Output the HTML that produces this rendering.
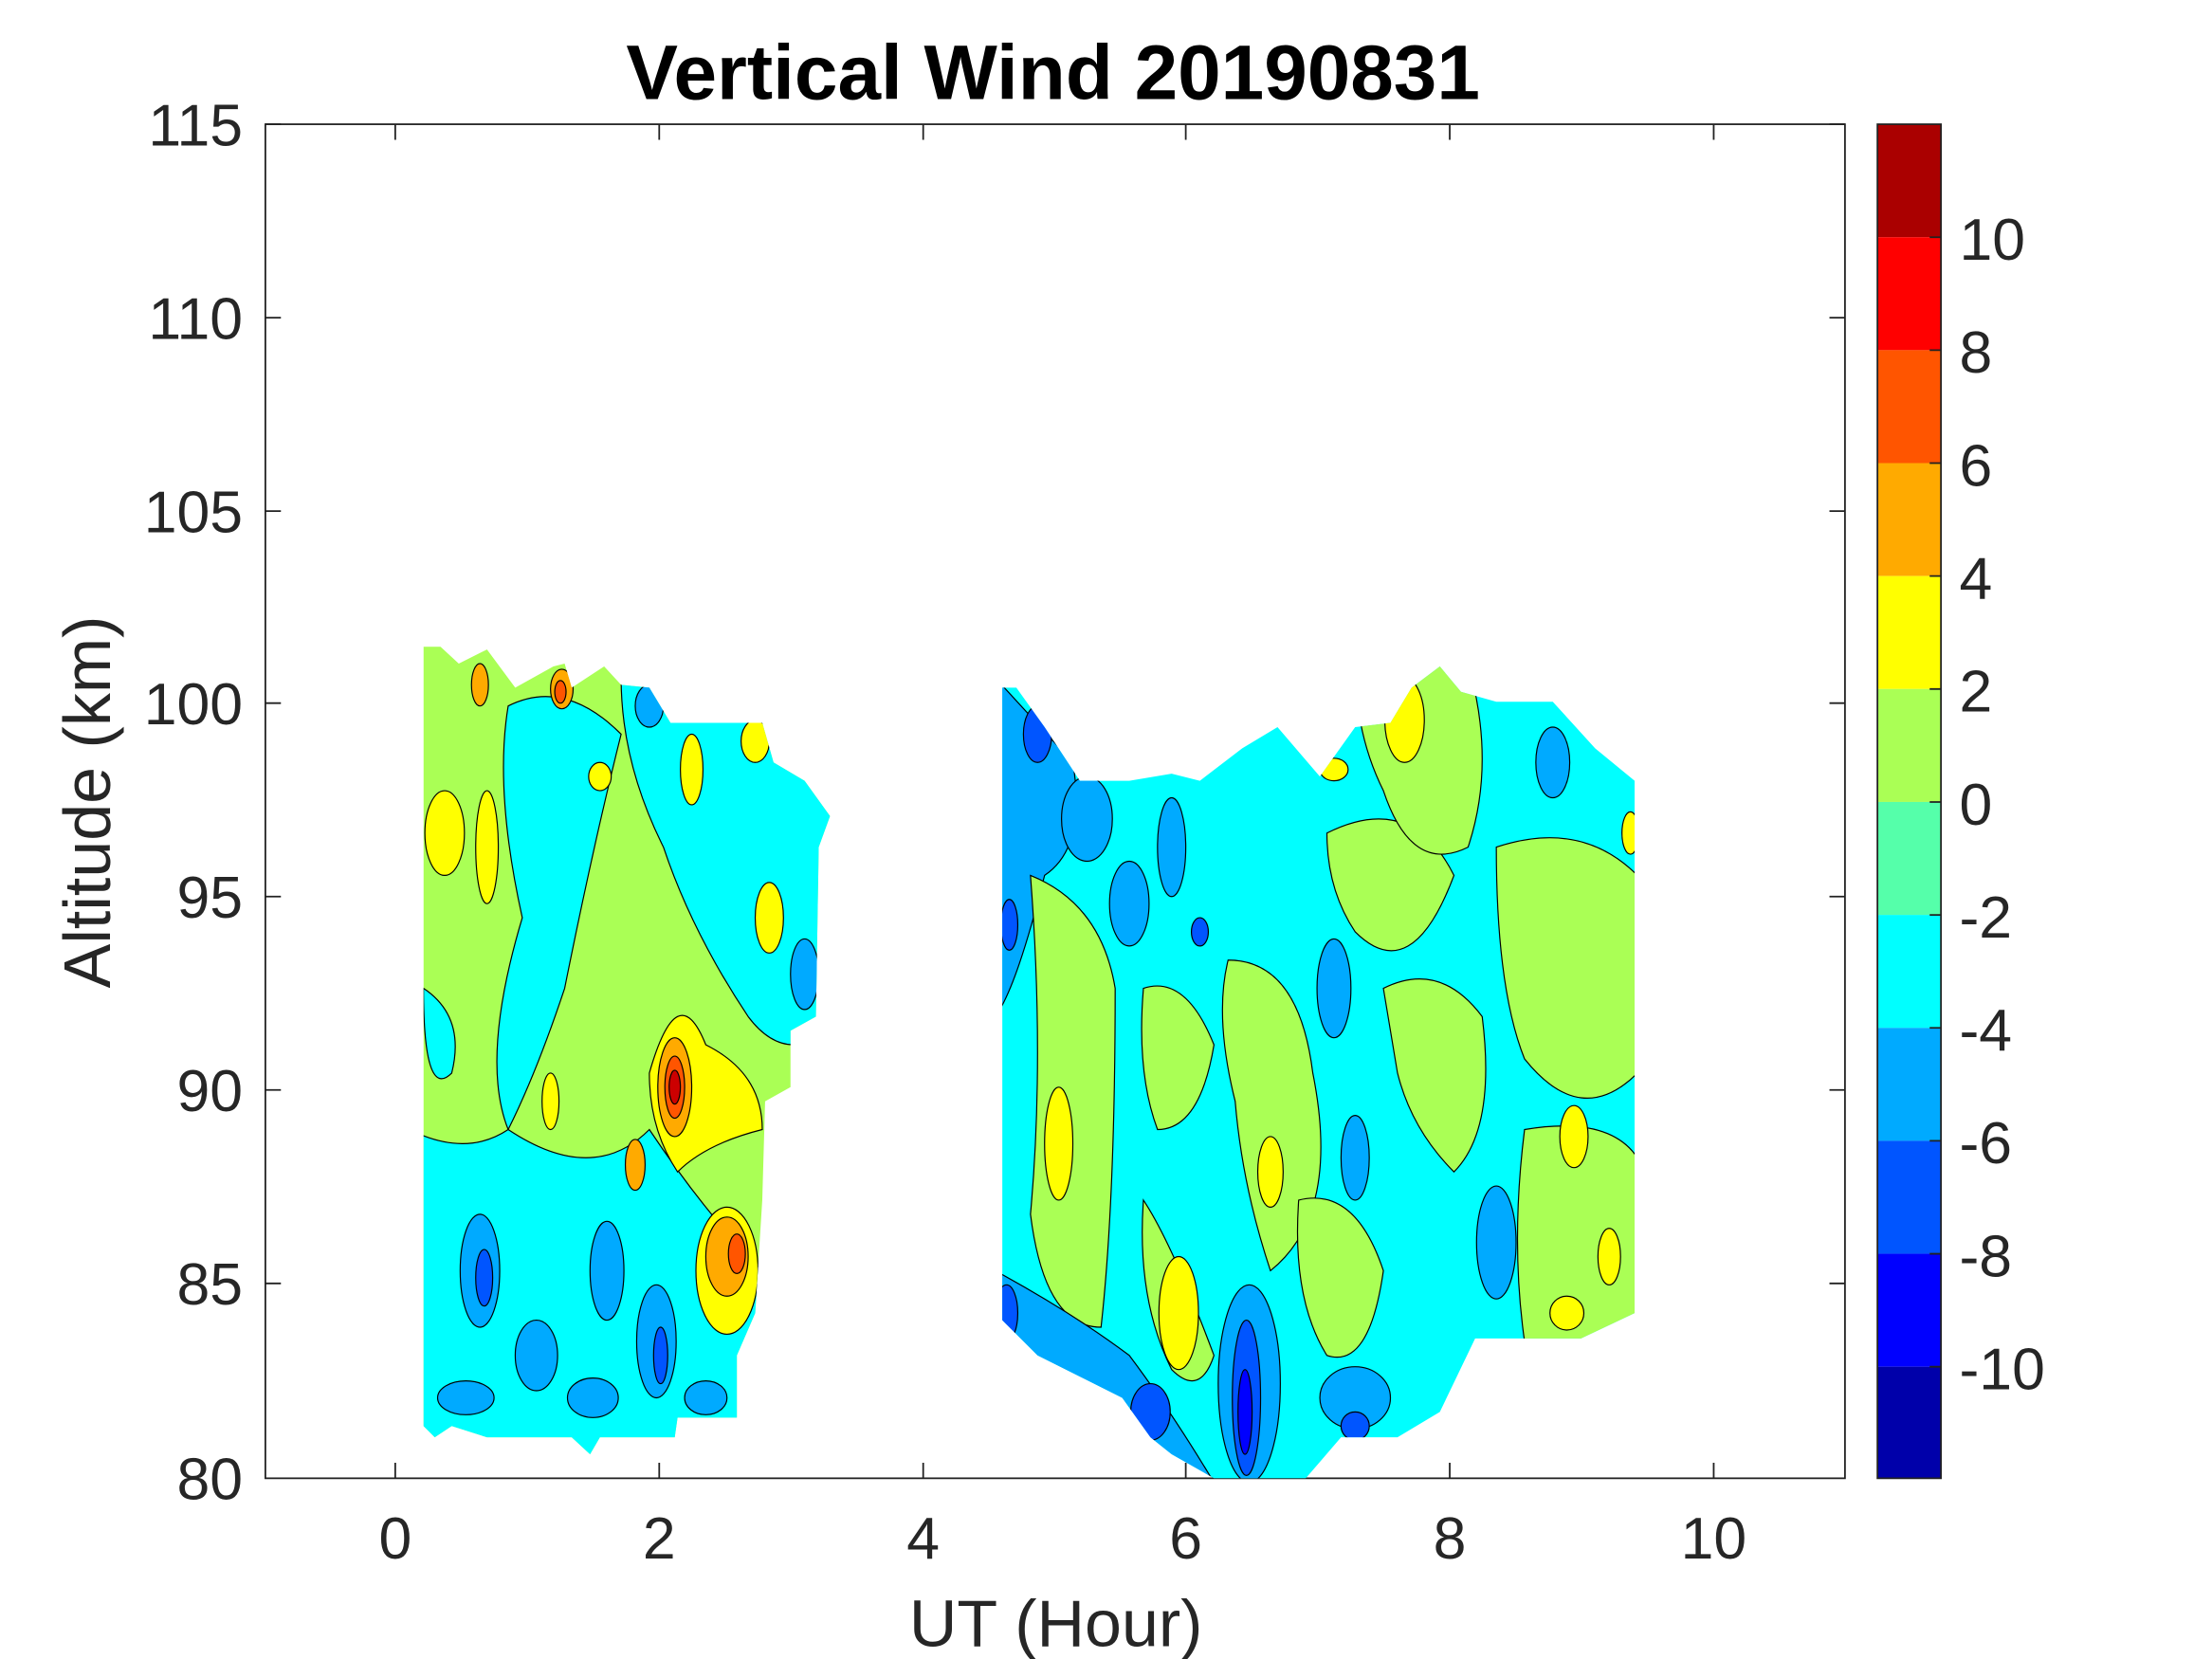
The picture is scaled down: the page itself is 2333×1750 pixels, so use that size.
<!DOCTYPE html>
<html><head><meta charset="utf-8"><style>html,body{margin:0;padding:0;background:#fff}svg{display:block}</style></head>
<body>
<svg width="2333" height="1750" viewBox="0 0 1567 1175" preserveAspectRatio="none" xmlns="http://www.w3.org/2000/svg" font-family="Liberation Sans, sans-serif">
<defs>
<clipPath id="cl"><polygon points="300,458 312,458 325,470 345,460 365,487 392,472 400,470 405,487 428,472 440,485 460,487 475,512 540,512 548,540 570,553 588,578 580,600 578,720 560,730 560,770 542,780 540,850 535,930 522,960 522,1004 480,1004 478,1018 425,1018 418,1030 405,1018 345,1018 320,1010 308,1018 300,1010"/></clipPath>
<clipPath id="cr"><polygon points="710,487 720,487 740,515 765,553 800,553 830,548 850,553 880,530 905,515 935,550 960,515 985,512 1000,487 1020,472 1035,490 1060,497 1100,497 1130,530 1158,553 1158,930 1120,948 1045,948 1020,1000 990,1018 950,1018 925,1047 860,1047 830,1030 815,1018 795,990 765,975 735,960 710,935"/></clipPath>
</defs>
<rect x="188" y="88" width="1119" height="959" fill="#fff" stroke="#222" stroke-width="1.2"/>
<g clip-path="url(#cl)" stroke="#000" stroke-width="0.8">
<rect x="290" y="450" width="310" height="590" fill="#aaff55"/>
<path d="M360 500 Q400 480 440 520 Q420 600 400 700 Q380 760 360 800 Q340 750 370 650 Q350 560 360 500Z" fill="#00ffff"/>
<path d="M440 480 L600 500 L600 720 Q560 760 530 720 Q490 660 470 600 Q440 540 440 480Z" fill="#00ffff"/>
<path d="M290 800 Q330 820 360 800 Q420 840 460 800 Q500 860 540 900 L540 1040 L290 1040Z" fill="#00ffff"/>
<path d="M300 700 Q330 720 320 760 Q300 780 300 700Z" fill="#00ffff"/>
<ellipse cx="340" cy="900" rx="14" ry="40" fill="#00aaff"/>
<ellipse cx="343" cy="905" rx="6" ry="20" fill="#0055ff"/>
<ellipse cx="380" cy="960" rx="15" ry="25" fill="#00aaff"/>
<ellipse cx="430" cy="900" rx="12" ry="35" fill="#00aaff"/>
<ellipse cx="465" cy="950" rx="14" ry="40" fill="#00aaff"/>
<ellipse cx="468" cy="960" rx="5" ry="20" fill="#0055ff"/>
<ellipse cx="330" cy="990" rx="20" ry="12" fill="#00aaff"/>
<ellipse cx="420" cy="990" rx="18" ry="14" fill="#00aaff"/>
<ellipse cx="500" cy="990" rx="15" ry="12" fill="#00aaff"/>
<ellipse cx="570" cy="690" rx="10" ry="25" fill="#00aaff"/>
<ellipse cx="460" cy="500" rx="10" ry="15" fill="#00aaff"/>
<ellipse cx="315" cy="590" rx="14" ry="30" fill="#ffff00"/>
<ellipse cx="345" cy="600" rx="8" ry="40" fill="#ffff00"/>
<ellipse cx="340" cy="485" rx="6" ry="15" fill="#ffaa00"/>
<ellipse cx="398" cy="488" rx="8" ry="14" fill="#ffaa00"/>
<ellipse cx="397" cy="490" rx="4" ry="8" fill="#ff5500"/>
<ellipse cx="490" cy="545" rx="8" ry="25" fill="#ffff00"/>
<ellipse cx="535" cy="525" rx="10" ry="15" fill="#ffff00"/>
<ellipse cx="545" cy="650" rx="10" ry="25" fill="#ffff00"/>
<path d="M460 760 Q480 690 500 740 Q540 760 540 800 Q500 810 480 830 Q460 800 460 760Z" fill="#ffff00"/>
<ellipse cx="478" cy="770" rx="12" ry="35" fill="#ffaa00"/>
<ellipse cx="478" cy="770" rx="7" ry="22" fill="#ff5500"/>
<ellipse cx="478" cy="770" rx="4" ry="12" fill="#cc0000"/>
<ellipse cx="515" cy="900" rx="22" ry="45" fill="#ffff00"/>
<ellipse cx="515" cy="890" rx="15" ry="28" fill="#ffaa00"/>
<ellipse cx="522" cy="888" rx="6" ry="14" fill="#ff5500"/>
<ellipse cx="450" cy="825" rx="7" ry="18" fill="#ffaa00"/>
<ellipse cx="390" cy="780" rx="6" ry="20" fill="#ffff00"/>
<ellipse cx="425" cy="550" rx="8" ry="10" fill="#ffff00"/>
</g>
<g clip-path="url(#cr)" stroke="#000" stroke-width="0.8">
<rect x="700" y="470" width="470" height="590" fill="#00ffff"/>
<path d="M705 480 L760 540 Q770 600 740 620 Q720 700 705 720Z" fill="#00aaff"/>
<ellipse cx="735" cy="520" rx="10" ry="20" fill="#0055ff"/>
<path d="M730 620 Q780 640 790 700 Q790 850 780 940 Q740 940 730 860 Q740 750 730 620Z" fill="#aaff55"/>
<path d="M810 700 Q840 690 860 740 Q850 800 820 800 Q805 760 810 700Z" fill="#aaff55"/>
<path d="M870 680 Q920 680 930 760 Q950 860 900 900 Q880 840 875 780 Q860 720 870 680Z" fill="#aaff55"/>
<path d="M810 850 Q830 880 860 960 Q850 990 830 970 Q805 920 810 850Z" fill="#aaff55"/>
<path d="M940 590 Q1000 560 1030 620 Q1000 700 960 660 Q940 630 940 590Z" fill="#aaff55"/>
<path d="M960 470 L1040 470 Q1060 540 1040 600 Q1000 620 980 560 Q960 520 960 470Z" fill="#aaff55"/>
<path d="M980 700 Q1020 680 1050 720 Q1060 800 1030 830 Q1000 800 990 760Z" fill="#aaff55"/>
<path d="M1060 600 Q1120 580 1160 620 L1160 760 Q1120 800 1080 750 Q1060 700 1060 600Z" fill="#aaff55"/>
<path d="M1080 800 Q1140 790 1160 820 L1160 950 L1080 950 Q1070 880 1080 800Z" fill="#aaff55"/>
<path d="M920 850 Q960 840 980 900 Q970 970 940 960 Q915 920 920 850Z" fill="#aaff55"/>
<ellipse cx="750" cy="810" rx="10" ry="40" fill="#ffff00"/>
<ellipse cx="835" cy="930" rx="14" ry="40" fill="#ffff00"/>
<ellipse cx="900" cy="830" rx="9" ry="25" fill="#ffff00"/>
<ellipse cx="995" cy="510" rx="14" ry="30" fill="#ffff00"/>
<ellipse cx="945" cy="545" rx="10" ry="8" fill="#ffff00"/>
<ellipse cx="1115" cy="805" rx="10" ry="22" fill="#ffff00"/>
<ellipse cx="1110" cy="930" rx="12" ry="12" fill="#ffff00"/>
<ellipse cx="1140" cy="890" rx="8" ry="20" fill="#ffff00"/>
<ellipse cx="1155" cy="590" rx="6" ry="15" fill="#ffff00"/>
<ellipse cx="770" cy="580" rx="18" ry="30" fill="#00aaff"/>
<ellipse cx="800" cy="640" rx="14" ry="30" fill="#00aaff"/>
<ellipse cx="830" cy="600" rx="10" ry="35" fill="#00aaff"/>
<ellipse cx="945" cy="700" rx="12" ry="35" fill="#00aaff"/>
<ellipse cx="960" cy="820" rx="10" ry="30" fill="#00aaff"/>
<ellipse cx="1060" cy="880" rx="14" ry="40" fill="#00aaff"/>
<path d="M705 900 Q760 930 800 960 Q830 1000 860 1050 L705 1050Z" fill="#00aaff"/>
<ellipse cx="885" cy="980" rx="22" ry="70" fill="#00aaff"/>
<ellipse cx="883" cy="990" rx="10" ry="55" fill="#0055ff"/>
<ellipse cx="882" cy="1000" rx="5" ry="30" fill="#0000ff"/>
<ellipse cx="960" cy="990" rx="25" ry="22" fill="#00aaff"/>
<ellipse cx="960" cy="1010" rx="10" ry="10" fill="#0055ff"/>
<ellipse cx="815" cy="1000" rx="14" ry="20" fill="#0055ff"/>
<ellipse cx="713" cy="930" rx="8" ry="20" fill="#0055ff"/>
<ellipse cx="715" cy="655" rx="6" ry="18" fill="#0055ff"/>
<ellipse cx="850" cy="660" rx="6" ry="10" fill="#0055ff"/>
<ellipse cx="1100" cy="540" rx="12" ry="25" fill="#00aaff"/>
</g>
<g stroke="#222" stroke-width="1.2">
<path d="M280 1047v-11M467 1047v-11M654 1047v-11M840 1047v-11M1027 1047v-11M1214 1047v-11M280 88v11M467 88v11M654 88v11M840 88v11M1027 88v11M1214 88v11"/>
<path d="M188 88h11M188 225h11M188 362h11M188 498h11M188 635h11M188 772h11M188 909h11M1307 88h-11M1307 225h-11M1307 362h-11M1307 498h-11M1307 635h-11M1307 772h-11M1307 909h-11"/>
</g>
<g font-size="42" fill="#262626" text-anchor="middle">
<text x="280" y="1104">0</text><text x="467" y="1104">2</text><text x="654" y="1104">4</text><text x="840" y="1104">6</text><text x="1027" y="1104">8</text><text x="1214" y="1104">10</text>
</g>
<g font-size="42" fill="#262626" text-anchor="end">
<text x="172" y="103">115</text><text x="172" y="240">110</text><text x="172" y="377">105</text><text x="172" y="513">100</text><text x="172" y="650">95</text><text x="172" y="787">90</text><text x="172" y="924">85</text><text x="172" y="1062">80</text>
</g>
<text x="748" y="1166" font-size="47" fill="#262626" text-anchor="middle">UT (Hour)</text>
<text transform="translate(78,568) rotate(-90)" font-size="47" fill="#262626" text-anchor="middle">Altitude (km)</text>
<text x="746" y="70" font-size="55" font-weight="bold" fill="#000" text-anchor="middle">Vertical Wind 20190831</text>
<g>
<rect x="1330" y="88" width="45" height="80" fill="#aa0000"/>
<rect x="1330" y="168" width="45" height="80" fill="#ff0000"/>
<rect x="1330" y="248" width="45" height="80" fill="#ff5500"/>
<rect x="1330" y="328" width="45" height="80" fill="#ffaa00"/>
<rect x="1330" y="408" width="45" height="80" fill="#ffff00"/>
<rect x="1330" y="488" width="45" height="80" fill="#aaff55"/>
<rect x="1330" y="568" width="45" height="80" fill="#55ffaa"/>
<rect x="1330" y="648" width="45" height="80" fill="#00ffff"/>
<rect x="1330" y="728" width="45" height="80" fill="#00aaff"/>
<rect x="1330" y="808" width="45" height="80" fill="#0055ff"/>
<rect x="1330" y="888" width="45" height="80" fill="#0000ff"/>
<rect x="1330" y="968" width="45" height="79" fill="#0000aa"/>
<rect x="1330" y="88" width="45" height="959" fill="none" stroke="#222" stroke-width="1.2"/>
<path stroke="#222" stroke-width="1.2" d="M1375 168h-8M1375 248h-8M1375 328h-8M1375 408h-8M1375 488h-8M1375 568h-8M1375 648h-8M1375 728h-8M1375 808h-8M1375 888h-8M1375 968h-8"/>
</g>
<g font-size="42" fill="#262626">
<text x="1388" y="184">10</text><text x="1388" y="264">8</text><text x="1388" y="344">6</text><text x="1388" y="424">4</text><text x="1388" y="504">2</text><text x="1388" y="584">0</text><text x="1388" y="664">-2</text><text x="1388" y="744">-4</text><text x="1388" y="824">-6</text><text x="1388" y="904">-8</text><text x="1388" y="984">-10</text>
</g>
</svg>
</body></html>
